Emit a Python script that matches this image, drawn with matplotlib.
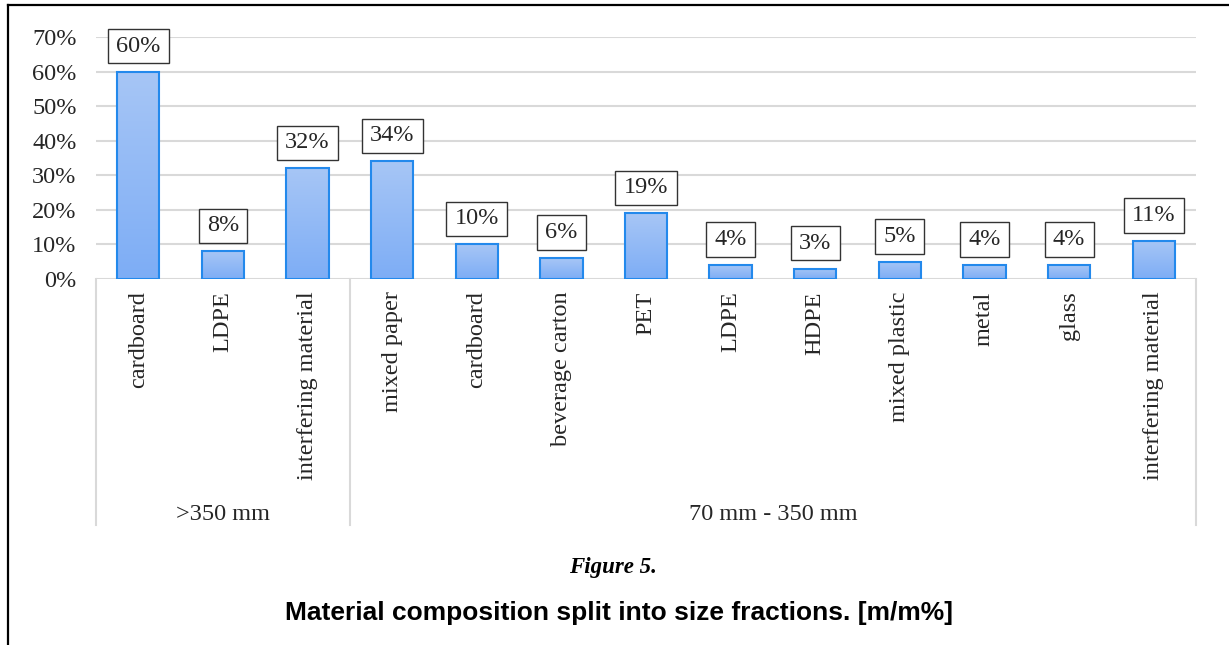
import matplotlib
matplotlib.use("Agg")
import matplotlib.pyplot as plt
import matplotlib.transforms as mtransforms
import numpy as np
from matplotlib.colors import LinearSegmentedColormap
from matplotlib.lines import Line2D
from matplotlib.path import Path

# ---- data ----
groups = [">350 mm", "70 mm - 350 mm"]
group_sizes = [3, 10]
categories = ["cardboard", "LDPE", "interfering material",
              "mixed paper", "cardboard", "beverage carton", "PET", "LDPE",
              "HDPE", "mixed plastic", "metal", "glass", "interfering material"]
shares = [60, 8, 32, 34, 10, 6, 19, 4, 3, 5, 4, 4, 11]
y_ticks = [0, 10, 20, 30, 40, 50, 60, 70]

# ---- style ----
W, H = 1229, 645
SERIF = ["Liberation Serif", "DejaVu Serif"]
SANS = ["Liberation Sans", "DejaVu Sans"]
TXT = "#262626"
GRID = "#d9d9d9"
FS = 17.5


def label_box(x0, y0, width, height, mutation_size):
    """Rectangle with wider horizontal than vertical padding."""
    px, py = 0.34 * mutation_size, 0.28 * mutation_size
    x0, y0 = x0 - px, y0 - py
    x1, y1 = x0 + width + 2 * px, y0 + height + 2 * py
    return Path([(x0, y0), (x1, y0), (x1, y1), (x0, y1), (x0, y0)],
                closed=True)


fig = plt.figure(figsize=(W / 100, H / 100), dpi=100)
ax = fig.add_axes([96 / W, 1 - 279 / H, 1100 / W, 242 / H])

x = np.arange(len(categories))
bars = ax.bar(x, shares, width=0.5, facecolor="none", edgecolor="#2389EC",
              linewidth=1.5, zorder=4)

# vertical gradient fill inside every bar
grad_cmap = LinearSegmentedColormap.from_list("barfill", ["#7DADF5", "#A7C6F6"])
grad = np.linspace(0, 1, 256).reshape(-1, 1)
for b in bars:
    x0, y0 = b.get_x(), b.get_y()
    w, h = b.get_width(), b.get_height()
    im = ax.imshow(grad, cmap=grad_cmap, origin="lower", aspect="auto",
                   extent=(x0, x0 + w, y0, y0 + h), zorder=3)
    im.set_clip_path(b)

ax.set_xlim(-0.5, len(categories) - 0.5)
ax.set_ylim(0, 70)

for s in ax.spines.values():
    s.set_visible(False)

ax.set_yticks(y_ticks)
ax.set_yticklabels([f"{v}%" for v in y_ticks], family=SERIF, fontsize=FS, color=TXT)
ax.yaxis.grid(True, color=GRID, linewidth=1.5, zorder=0)
ax.set_axisbelow(True)
ax.tick_params(axis="y", length=0, pad=14)

ax.set_xticks(x)
ax.set_xticklabels(categories, rotation=90, va="top", ha="center",
                   family=SERIF, fontsize=FS, color=TXT)
ax.tick_params(axis="x", length=0, pad=9)

# multi-level category axis: group separators and group names
trans = mtransforms.blended_transform_factory(ax.transData, ax.transAxes)
bottom = -246 / 242
edges = np.concatenate([[0], np.cumsum(group_sizes)]) - 0.5
for e in edges:
    ax.plot([e, e], [0, bottom], transform=trans, color=GRID, linewidth=1.5,
            clip_on=False, zorder=1)
for g, a, b in zip(groups, edges[:-1], edges[1:]):
    ax.text((a + b) / 2, -235 / 242, g, transform=trans, ha="center",
            va="center", family=SERIF, fontsize=FS, color=TXT)

# value labels in boxes
for xi, v in zip(x, shares):
    ax.annotate(f"{v}%", (xi, v), xytext=(0, 15), textcoords="offset pixels",
                ha="center", va="bottom", family=SERIF, fontsize=FS, color=TXT,
                annotation_clip=False, zorder=6,
                bbox=dict(boxstyle=label_box, facecolor="white",
                          edgecolor="#333333", linewidth=1.0))

# captions
fig.text(613 / W, 1 - 568 / H, "Figure 5.", ha="center", va="center",
         family=SERIF, fontsize=16.5, fontweight="bold", fontstyle="italic",
         color="black")
fig.text(619 / W, 1 - 613 / H, "Material composition split into size fractions. [m/m%]",
         ha="center", va="center", family=SANS, fontsize=19,
         fontweight="bold", color="black")

# frame lines (top and left)
fig.add_artist(Line2D([8 / W, 1], [1 - 5 / H, 1 - 5 / H], transform=fig.transFigure,
                      color="black", linewidth=1.6))
fig.add_artist(Line2D([8 / W, 8 / W], [0, 1 - 5 / H], transform=fig.transFigure,
                      color="black", linewidth=1.6))

fig.savefig("out.png", dpi=100)
